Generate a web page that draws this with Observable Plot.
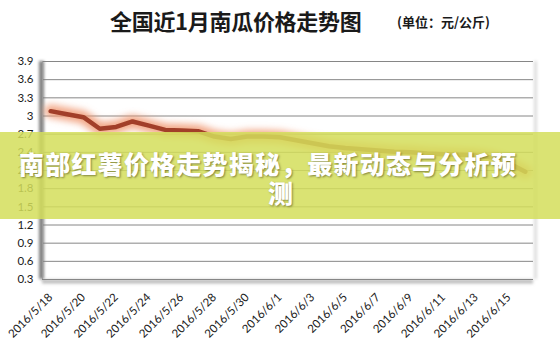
<!DOCTYPE html>
<html><head><meta charset="utf-8">
<script src="https://cdn.jsdelivr.net/npm/d3@7"></script>
<script src="https://cdn.jsdelivr.net/npm/@observablehq/plot@0.6"></script>
<style>
body{margin:0;background:#fff;}
#wrap{position:relative;width:560px;height:353px;overflow:hidden;}
#head{position:relative;height:40px;font-family:"Noto Sans CJK SC",sans-serif;color:#1a1a1a;}
#t1{position:absolute;left:110px;top:7px;font-size:22px;line-height:26px;font-weight:700;white-space:nowrap;letter-spacing:-0.3px;}
#t2{position:absolute;left:397px;top:12px;font-size:13px;line-height:20px;font-weight:700;white-space:nowrap;}
#band{position:absolute;left:0;top:132px;width:560px;height:87px;background:rgba(212,222,90,0.85);}
.bl{position:absolute;width:560px;text-align:center;font-family:"Noto Sans CJK SC",sans-serif;font-weight:900;font-size:25px;line-height:30px;color:#fff;text-shadow:1px 1px 2px rgba(60,60,20,0.55);white-space:nowrap;letter-spacing:1.2px;}
</style></head><body>
<div id="wrap">
  <div id="head"><span id="t1">全国近1月南瓜价格走势图</span><span id="t2">(单位：元/公斤)</span></div>
  <div id="chart"></div>
  <div id="band">
    <div class="bl" id="l1" style="left:-12px;top:16px;">南部红薯价格走势揭秘，最新动态与分析预</div>
    <div class="bl" id="l2" style="left:1px;top:45px;">测</div>
  </div>
</div>
<script>
const dates = ["2016/5/18","2016/5/19","2016/5/20","2016/5/21","2016/5/22","2016/5/23","2016/5/24","2016/5/25","2016/5/26","2016/5/27","2016/5/28","2016/5/29","2016/5/30","2016/5/31","2016/6/1","2016/6/2","2016/6/3","2016/6/4","2016/6/5","2016/6/6","2016/6/7","2016/6/8","2016/6/9","2016/6/10","2016/6/11","2016/6/12","2016/6/13","2016/6/14","2016/6/15","2016/6/16"];
const prices = [3.08,3.03,2.98,2.79,2.82,2.91,2.84,2.77,2.76,2.75,2.66,2.62,2.66,2.66,2.65,2.60,2.55,2.50,2.47,2.45,2.43,2.41,2.40,2.38,2.37,2.36,2.35,2.31,2.22,2.08];
const yTicks = [0.3,0.6,0.9,1.2,1.5,1.8,2.1,2.4,2.7,3.0,3.3,3.6,3.9];
const xTickLabels = ["2016/5/18","2016/5/20","2016/5/22","2016/5/24","2016/5/26","2016/5/28","2016/5/30","2016/6/1","2016/6/3","2016/6/5","2016/6/7","2016/6/9","2016/6/11","2016/6/13","2016/6/15"];

const parse = s => { const [y,m,d] = s.split("/").map(Number); return new Date(Date.UTC(y, m - 1, d)); };
const fmt = d => `${d.getUTCFullYear()}/${d.getUTCMonth() + 1}/${d.getUTCDate()}`;
const data = dates.map((d, i) => ({date: parse(d), price: prices[i]}));
const half = 12 * 3600 * 1000;
const x0 = new Date(+data[0].date - half), x1 = new Date(+data[data.length - 1].date + half);

const chart = Plot.plot({
  width: 560, height: 313,
  marginTop: 21, marginBottom: 74, marginLeft: 42, marginRight: 27,
  style: {fontFamily: "Lato, 'Open Sans', sans-serif", fontSize: "11.5px", color: "#1a1a1a", background: "transparent", overflow: "visible"},
  x: {type: "utc", domain: [x0, x1], ticks: xTickLabels.map(parse), tickFormat: fmt, tickRotate: -45, tickSize: 0, tickPadding: 16, label: null},
  y: {domain: [0.3, 3.9], ticks: yTicks, tickFormat: d => String(+d.toFixed(1)), tickSize: 0, tickPadding: 9, label: null},
  marks: [
    Plot.ruleY([0.3], {stroke: "#bbb", strokeWidth: 4, dy: 2}),
    Plot.ruleX([x1], {stroke: "#ddd", strokeWidth: 3, dx: 2}),
    Plot.ruleY(yTicks, {stroke: "#868686", strokeWidth: 1}),
    Plot.ruleX([x0], {stroke: "#808080", strokeWidth: 5, dx: -1}),
    Plot.ruleX([x0], {stroke: "#9a9a9a", strokeWidth: 1}),
    Plot.line(data, {x: "date", y: "price", stroke: "#f09872", strokeWidth: 13, strokeOpacity: 0.85, strokeLinejoin: "round", strokeLinecap: "round"}),
    Plot.line(data, {x: "date", y: "price", stroke: "#a23f29", strokeWidth: 4.5, strokeLinejoin: "round", strokeLinecap: "round"})
  ]
});
document.getElementById("chart").appendChild(chart);
const svg = d3.select(chart);
const defs = svg.insert("defs", ":first-child");
defs.append("filter").attr("id", "blur6").attr("filterUnits", "userSpaceOnUse").attr("x", 0).attr("y", 0).attr("width", 560).attr("height", 313)
  .append("feGaussianBlur").attr("stdDeviation", 3.5);
defs.append("filter").attr("id", "blur2").attr("filterUnits", "userSpaceOnUse").attr("x", 0).attr("y", 0).attr("width", 560).attr("height", 313)
  .append("feGaussianBlur").attr("stdDeviation", 1.5);
const lines = svg.selectAll('g[aria-label="line"]').nodes();
if (lines.length) d3.select(lines[0]).attr("filter", "url(#blur6)");
const rules = svg.selectAll('g[aria-label^="rule"]').nodes();
[0, 1, 3].forEach(i => { if (rules[i]) d3.select(rules[i]).attr("filter", "url(#blur2)"); });
</script>
</body></html>
